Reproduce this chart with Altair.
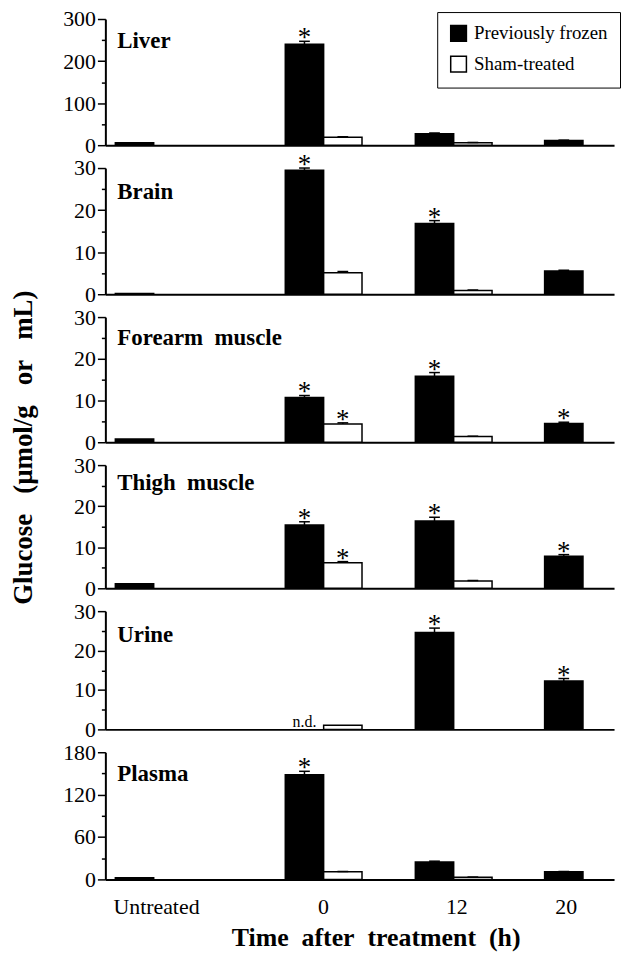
import altair as alt
import pandas as pd

# ---------------- data ----------------
groups = ["Untreated", "0", "12", "20"]
series = ["Previously frozen", "Sham-treated"]
panels = ["Liver", "Brain", "Forearm muscle", "Thigh muscle", "Urine", "Plasma"]
panel_labels = ["Liver", "Brain", "Forearm\u00a0\u00a0muscle", "Thigh\u00a0\u00a0muscle",
                "Urine", "Plasma"]
y_max = [300, 30, 30, 30, 30, 180]
major_ticks = [[0, 100, 200, 300], [0, 10, 20, 30], [0, 10, 20, 30],
               [0, 10, 20, 30], [0, 10, 20, 30], [0, 60, 120, 180]]
minor_ticks = [[50, 150, 250], [5, 15, 25], [5, 15, 25],
               [5, 15, 25], [5, 15, 25], [30, 90, 150]]

# Previously frozen: Untreated, 0 h, 12 h, 20 h
frozen_vals = {
    "Liver":          [6, 240, 27, 11],
    "Brain":          [0.2, 29.5, 16.8, 5.5],
    "Forearm muscle": [0.8, 10.7, 15.8, 4.5],
    "Thigh muscle":   [1.1, 15.4, 16.4, 7.8],
    "Urine":          [None, None, 24.6, 12.3],
    "Plasma":         [2.5, 148, 24.8, 10.7],
}
frozen_err = {
    "Liver":          [0, 7, 2, 1],
    "Brain":          [0, 0.5, 0.7, 0.2],
    "Forearm muscle": [0, 0.5, 0.9, 0.3],
    "Thigh muscle":   [0, 0.8, 0.9, 0.4],
    "Urine":          [0, 0, 1.1, 0.6],
    "Plasma":         [0, 5, 1, 0.5],
}
frozen_star = {
    "Liver":          [0, 1, 0, 0],
    "Brain":          [0, 1, 1, 0],
    "Forearm muscle": [0, 1, 1, 1],
    "Thigh muscle":   [0, 1, 1, 1],
    "Urine":          [0, 0, 1, 1],
    "Plasma":         [0, 1, 0, 0],
}
# Sham-treated: Untreated, 0 h, 12 h, 20 h
sham_vals = {
    "Liver":          [None, 19, 6, None],
    "Brain":          [None, 5.1, 0.9, None],
    "Forearm muscle": [None, 4.35, 1.35, None],
    "Thigh muscle":   [None, 6.2, 1.8, None],
    "Urine":          [None, 1.05, None, None],
    "Plasma":         [None, 10.7, 3, None],
}
sham_err = {
    "Liver":          [0, 1, 0.5, 0],
    "Brain":          [0, 0.3, 0.1, 0],
    "Forearm muscle": [0, 0.3, 0.1, 0],
    "Thigh muscle":   [0, 0.3, 0.1, 0],
    "Urine":          [0, 0, 0, 0],
    "Plasma":         [0, 0.5, 0.3, 0],
}
sham_star = {
    "Liver":          [0, 0, 0, 0],
    "Brain":          [0, 0, 0, 0],
    "Forearm muscle": [0, 1, 0, 0],
    "Thigh muscle":   [0, 1, 0, 0],
    "Urine":          [0, 0, 0, 0],
    "Plasma":         [0, 0, 0, 0],
}
not_detected = [("Urine", "0", "Previously frozen", "n.d.")]

x_tick_labels = ["Untreated", "0", "12", "20"]
y_title = "Glucose\u00a0\u00a0\u00a0(µmol/g\u00a0\u00a0\u00a0or\u00a0\u00a0\u00a0mL)"
x_title = "Time\u00a0 after\u00a0 treatment\u00a0 (h)"

# ---------------- layout (bar-width units) ----------------
BAR_LEFT = {"Untreated": 0.26, "0": 4.69, "12": 8.08, "20": 11.45}
SHIFT = {"Previously frozen": 0.0, "Sham-treated": 1.0}
X_MAX = 13.26
LABEL_POS = [1.32, 5.67, 9.15, 12.0]
CAP = 0.14
heights = [127, 127, 126, 124, 119, 128]
label_y = [29, 31, 28, 25, 31, 29]
FONT = "Liberation Serif"

rows = []
for p in panels:
    for s, vals, errs, stars in [
        ("Previously frozen", frozen_vals[p], frozen_err[p], frozen_star[p]),
        ("Sham-treated", sham_vals[p], sham_err[p], sham_star[p]),
    ]:
        for g, v, e, st in zip(groups, vals, errs, stars):
            if v is None:
                continue
            left = BAR_LEFT[g] + SHIFT[s]
            rows.append(dict(panel=p, series=s, group=g, value=v, err=e,
                             top=v + e, star=st, zero=0.0,
                             x0=left, x1=left + 1.0, xc=left + 0.5,
                             cl=left + 0.5 - CAP, cr=left + 0.5 + CAP))
df = pd.DataFrame(rows)

nd_rows = []
for p, g, s, t in not_detected:
    nd_rows.append(dict(panel=p, text=t, xc=BAR_LEFT[g] + SHIFT[s] + 0.5, zero=0.0))
nd_df = pd.DataFrame(nd_rows)

label_expr = ""
for i, (pos, lab) in enumerate(zip(LABEL_POS, x_tick_labels)):
    if i < len(LABEL_POS) - 1:
        label_expr += f"datum.value < {pos + 0.5} ? '{lab}' : "
    else:
        label_expr += f"'{lab}'"


def make_panel(i, name):
    d = df[df.panel == name]
    last = i == len(panels) - 1
    xs = alt.Scale(domain=[0, X_MAX], nice=False, zero=False)
    ys = alt.Scale(domain=[0, y_max[i]], nice=False, zero=True)

    if last:
        x_axis = alt.Axis(values=LABEL_POS, labelExpr=label_expr, ticks=False,
                          tickSize=0, labelPadding=17, labelFontSize=22,
                          labelFont=FONT, labelColor="black", labelFlush=False,
                          labelOverlap=False, labelBound=False, grid=False,
                          domainColor="black", domainWidth=2,
                          title=x_title, titleFont=FONT,
                          titleFontSize=26, titleFontWeight="bold",
                          titleColor="black", titleX=272, titleY=67,
                          titleAlign="center", titleBaseline="alphabetic")
    else:
        x_axis = alt.Axis(labels=False, ticks=False, grid=False, title="",
                          domainColor="black", domainWidth=2)

    y_kwargs = dict(values=major_ticks[i], tickSize=8, tickWidth=1.5,
                    tickColor="black", labelFont=FONT, labelFontSize=22,
                    labelColor="black", labelPadding=2, labelFlush=False,
                    labelOverlap=False, grid=False, domainColor="black",
                    domainWidth=2, orient="left")
    if name == "Forearm muscle":
        y_kwargs.update(title=y_title, titleFont=FONT,
                        titleFontSize=27, titleFontWeight="bold",
                        titleColor="black", titleAngle=270, titleX=-82,
                        titleY=131, titleAlign="center", titleBaseline="middle")
    else:
        y_kwargs.update(title="")
    y_axis = alt.Axis(**y_kwargs)
    minor_axis = alt.Axis(values=minor_ticks[i], tickSize=4, tickWidth=1.5,
                          tickColor="black", labels=False, domain=False,
                          grid=False, title="", orient="left")

    if i == 0:
        legend = alt.Legend(orient="none", legendX=334, legendY=-7, title=None,
                            strokeColor="black", padding=12,
                            symbolType="square", symbolSize=250,
                            symbolStrokeColor="black", symbolStrokeWidth=1.5,
                            labelFont=FONT, labelFontSize=19,
                            labelColor="black", labelOffset=6, rowPadding=8,
                            fillColor="white")
    else:
        legend = None

    base = alt.Chart(d)
    bars = base.mark_rect(stroke="black", strokeWidth=1.5).encode(
        x=alt.X("x0:Q", scale=xs, axis=x_axis),
        x2="x1:Q",
        y=alt.Y("value:Q", scale=ys, axis=y_axis),
        y2="zero:Q",
        fill=alt.Fill("series:N", scale=alt.Scale(domain=series,
                                                  range=["black", "white"]),
                      legend=legend),
    )
    minor = base.mark_point(opacity=0).encode(
        x=alt.X("xc:Q", scale=xs, axis=None),
        y=alt.Y("value:Q", scale=ys, axis=minor_axis),
    )
    ed = d[d.err > 0]
    err_v = alt.Chart(ed).mark_rule(color="black", strokeWidth=1.5).encode(
        x=alt.X("xc:Q", scale=xs, axis=None),
        y=alt.Y("value:Q", scale=ys, axis=None),
        y2="top:Q",
    )
    err_cap = alt.Chart(ed).mark_rule(color="black", strokeWidth=1.5).encode(
        x=alt.X("cl:Q", scale=xs, axis=None),
        x2="cr:Q",
        y=alt.Y("top:Q", scale=ys, axis=None),
    )
    sd = d[d.star == 1]
    stars = alt.Chart(sd).mark_text(text="*", font=FONT, fontSize=27,
                                    baseline="alphabetic", align="center",
                                    dy=5, color="black").encode(
        x=alt.X("xc:Q", scale=xs, axis=None),
        y=alt.Y("top:Q", scale=ys, axis=None),
    )
    title_txt = alt.Chart(pd.DataFrame({"label": [panel_labels[i]]})).mark_text(
        font=FONT, fontSize=23, fontWeight="bold", align="left",
        baseline="alphabetic", color="black").encode(
        x=alt.value(12), y=alt.value(label_y[i]), text="label:N")

    layers = [bars, minor, err_v, err_cap, stars, title_txt]
    nd = nd_df[nd_df.panel == name] if len(nd_df) else nd_df
    if len(nd):
        layers.append(alt.Chart(nd).mark_text(font=FONT, fontSize=16,
                                              baseline="alphabetic",
                                              align="center", dy=-2,
                                              color="black").encode(
            x=alt.X("xc:Q", scale=xs, axis=None),
            y=alt.Y("zero:Q", scale=ys, axis=None),
            text="text:N"))
    return alt.layer(*layers).resolve_axis(
        x="independent", y="independent").properties(
        width=512, height=heights[i])


chart = alt.vconcat(*[make_panel(i, p) for i, p in enumerate(panels)],
                    spacing=23, bounds="flush").resolve_scale(
    fill="independent", x="independent", y="independent"
).properties(padding={"left": 1, "top": -3, "right": 0, "bottom": 0}
).configure(font=FONT).configure_view(strokeWidth=0, stroke="transparent")

chart.save("out.html", embed_options={"renderer": "svg", "actions": False})
